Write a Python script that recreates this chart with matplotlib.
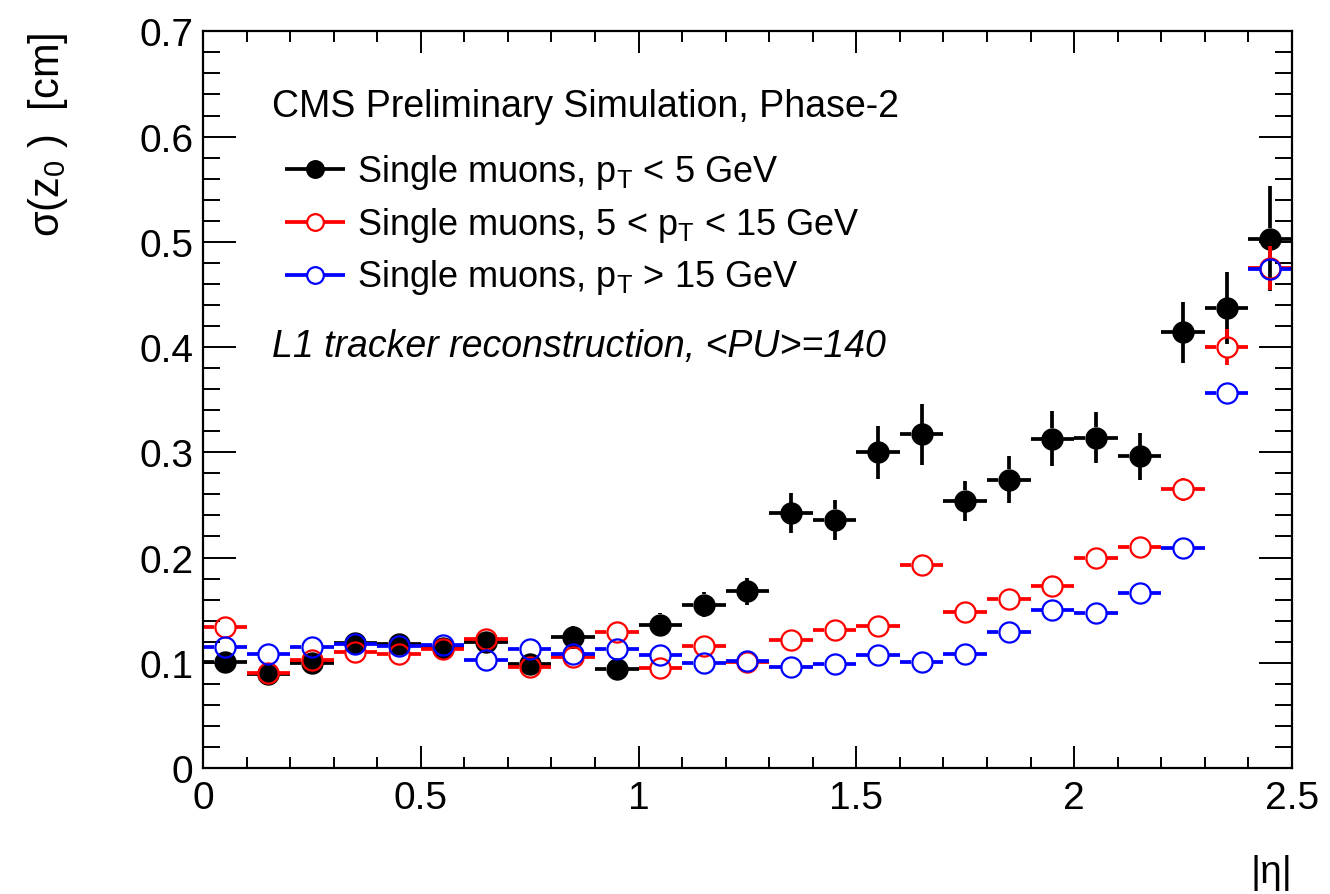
import numpy as np
import matplotlib
matplotlib.use("Agg")
import matplotlib.pyplot as plt
from matplotlib.ticker import MultipleLocator, FormatStrFormatter

plt.rcParams["font.family"] = ["Liberation Sans", "DejaVu Sans"]
plt.rcParams["mathtext.fontset"] = "custom"
plt.rcParams["mathtext.rm"] = "Liberation Sans"
plt.rcParams["mathtext.it"] = "Liberation Sans:italic"

# |eta| bins of width 0.1
eta = np.arange(0.05, 2.5, 0.1)

# z0 resolution [cm], pT < 5 GeV
sig_low = [0.101, 0.089, 0.100, 0.119, 0.118, 0.114, 0.120, 0.099, 0.124, 0.094,
           0.136, 0.155, 0.168, 0.242, 0.236, 0.300, 0.317, 0.254, 0.274, 0.313,
           0.314, 0.296, 0.414, 0.437, 0.503]
err_low = [0.007, 0.007, 0.007, 0.008, 0.008, 0.008, 0.009, 0.008, 0.011, 0.008,
           0.011, 0.012, 0.013, 0.019, 0.019, 0.025, 0.029, 0.019, 0.022, 0.026,
           0.024, 0.022, 0.029, 0.034, 0.050]

# 5 < pT < 15 GeV
sig_mid = [0.134, 0.090, 0.103, 0.110, 0.108, 0.113, 0.123, 0.096, 0.105, 0.129,
           0.095, 0.116, 0.101, 0.122, 0.131, 0.135, 0.193, 0.148, 0.161, 0.173,
           0.200, 0.210, 0.265, 0.400, 0.475]
err_mid = [0.004, 0.003, 0.003, 0.003, 0.003, 0.003, 0.004, 0.003, 0.003, 0.004,
           0.003, 0.004, 0.004, 0.004, 0.004, 0.004, 0.006, 0.005, 0.005, 0.005,
           0.006, 0.007, 0.011, 0.017, 0.021]

# pT > 15 GeV
sig_high = [0.115, 0.108, 0.115, 0.118, 0.116, 0.117, 0.103, 0.113, 0.108, 0.113,
            0.107, 0.100, 0.102, 0.096, 0.099, 0.107, 0.101, 0.108, 0.129, 0.150,
            0.147, 0.166, 0.209, 0.356, 0.474]
err_high = [0.002, 0.002, 0.002, 0.002, 0.002, 0.002, 0.002, 0.002, 0.002, 0.002,
            0.002, 0.002, 0.002, 0.002, 0.002, 0.002, 0.002, 0.002, 0.003, 0.003,
            0.003, 0.003, 0.004, 0.006, 0.008]

labels = [r"Single muons, $\mathrm{p_{T}}$ < 5 GeV",
          r"Single muons, 5 < $\mathrm{p_{T}}$ < 15 GeV",
          r"Single muons, $\mathrm{p_{T}}$ > 15 GeV"]
colors = ["black", "#ff0000", "#0000ff"]

W, H, DPI = 13.3, 8.95, 100
fig = plt.figure(figsize=(W, H), dpi=DPI)
ax = fig.add_axes([0.1526, 0.1408, 0.8188, 0.8231])
ax.set_xlim(0, 2.5)
ax.set_ylim(0, 0.7)

LW = 2.7
MS = 14.5
half_bin = 0.05
# marker radius in data units, so error bars stop at the circle edge
r_px = 10.5
ax_w_px = 0.8188 * W * DPI
ax_h_px = 0.8231 * H * DPI
rx = r_px * 2.5 / ax_w_px
ry = r_px * 0.7 / ax_h_px


def draw_series(x, y, err, color, filled):
    y = np.asarray(y)
    err = np.asarray(err)
    kw = dict(colors=color, linewidth=LW, capstyle="butt")
    ax.hlines(y, x - half_bin, x - rx, **kw)
    ax.hlines(y, x + rx, x + half_bin, **kw)
    m = err > ry
    ax.vlines(x[m], y[m] + ry, y[m] + err[m], **kw)
    ax.vlines(x[m], y[m] - err[m], y[m] - ry, **kw)
    ax.plot(x, y, "o", ms=MS, mec=color, mew=1.6,
            mfc=color if filled else "none", clip_on=False)


draw_series(eta, sig_low, err_low, colors[0], True)
draw_series(eta, sig_mid, err_mid, colors[1], False)
draw_series(eta, sig_high, err_high, colors[2], False)

# ROOT-style axes: inward ticks on all four sides
ax.xaxis.set_major_locator(MultipleLocator(0.5))
ax.xaxis.set_minor_locator(MultipleLocator(0.1))
ax.yaxis.set_major_locator(MultipleLocator(0.1))
ax.yaxis.set_minor_locator(MultipleLocator(0.02))
ax.xaxis.set_major_formatter(FormatStrFormatter("%g"))
ax.yaxis.set_major_formatter(FormatStrFormatter("%g"))
ax.tick_params(which="both", direction="in", top=True, right=True, width=1.4)
ax.tick_params(axis="x", which="major", length=16, pad=9, labelsize=28)
ax.tick_params(axis="x", which="minor", length=8)
ax.tick_params(axis="y", which="major", length=24, pad=7, labelsize=28)
ax.tick_params(axis="y", which="minor", length=12)
for s in ax.spines.values():
    s.set_linewidth(1.6)

ax.set_xlabel("|η|", fontsize=28, loc="right", labelpad=27)
ax.set_ylabel(r"σ(z$_{0}$ )  [cm]", fontsize=30, loc="top", labelpad=50)

# header and legend
ax.text(0.0634, 0.885, "CMS Preliminary Simulation, Phase-2", fontsize=27,
        transform=ax.transAxes, va="baseline")
row_mark = [0.813, 0.741, 0.669]
row_base = [0.797, 0.725, 0.654]
for i, (lab, c) in enumerate(zip(labels, colors)):
    ax.plot([0.0753, 0.1304], [row_mark[i]] * 2, color=c, lw=LW,
            transform=ax.transAxes, solid_capstyle="butt")
    ax.plot([0.1028], [row_mark[i]], "o", ms=12, mec=c, mew=1.6,
            mfc=c if i == 0 else "white", transform=ax.transAxes)
    ax.text(0.1414, row_base[i], lab, fontsize=26, transform=ax.transAxes,
            va="baseline")
ax.text(0.0634, 0.559, "L1 tracker reconstruction, <PU>=140", fontsize=27,
        style="italic", transform=ax.transAxes, va="baseline")

fig.savefig("out.png", dpi=DPI)
